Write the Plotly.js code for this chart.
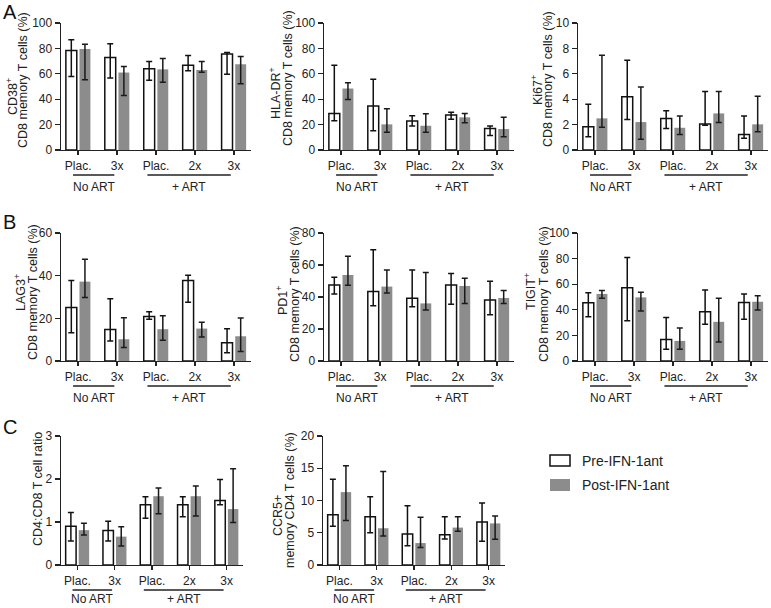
<!DOCTYPE html>
<html>
<head>
<meta charset="utf-8">
<script src="https://cdn.plot.ly/plotly-3.0.1.min.js"></script>
<style>
  html, body { margin: 0; padding: 0; background: #fff; }
  #chart { width: 771px; height: 608px; }
</style>
</head>
<body>
<div id="chart"></div>
<script>
const groups = ["Plac.", "3x", "Plac.", "2x", "3x"];
const arms = ["No ART", "+ ART"];
const seriesNames = ["Pre-IFN-1ant", "Post-IFN-1ant"];

// CD38+ CD8 memory T cells (%)
const cd38Pre = [78.4, 72.9, 64.0, 66.8, 75.5];
const cd38PreHi = [86.8, 83.7, 69.7, 74.5, 76.8];
const cd38PreLo = [57.9, 56.6, 55.0, 62.4, 59.7];
const cd38Post = [79.5, 61.0, 63.5, 63.0, 67.6];
const cd38PostHi = [83.2, 65.8, 72.1, 69.7, 73.7];
const cd38PostLo = [55.3, 42.9, 53.4, 61.3, 52.1];

// HLA-DR+
const hladrPre = [28.8, 34.6, 22.8, 27.5, 17.0];
const hladrPreHi = [66.8, 55.8, 27.0, 29.8, 18.8];
const hladrPreLo = [23.0, 15.2, 18.8, 24.3, 11.5];
const hladrPost = [48.4, 20.2, 19.1, 25.7, 16.5];
const hladrPostHi = [52.9, 32.5, 28.5, 28.8, 25.7];
const hladrPostLo = [39.8, 13.9, 14.0, 21.5, 10.5];

// Ki67+
const ki67Pre = [1.83, 4.19, 2.49, 2.04, 1.23];
const ki67PreHi = [3.6, 7.07, 3.09, 4.6, 2.67];
const ki67PreLo = [1.05, 2.4, 1.7, 1.95, 0.92];
const ki67Post = [2.49, 2.2, 1.75, 2.88, 2.02];
const ki67PostHi = [7.46, 4.97, 2.67, 4.6, 4.24];
const ki67PostLo = [1.8, 0.84, 1.23, 2.17, 1.44];

// LAG3+
const lag3Pre = [25.1, 14.8, 20.9, 37.7, 8.5];
const lag3PreHi = [37.7, 29.2, 23.1, 40.2, 15.1];
const lag3PreLo = [13.2, 9.4, 19.6, 27.5, 3.9];
const lag3Post = [37.2, 10.2, 14.9, 15.2, 11.6];
const lag3PostHi = [47.7, 20.3, 21.2, 18.2, 20.1];
const lag3PostLo = [29.8, 6.3, 9.7, 11.3, 4.4];

// PD1+
const pd1Pre = [47.5, 43.4, 39.2, 47.5, 38.1];
const pd1PreHi = [52.4, 69.5, 56.8, 54.7, 49.8];
const pd1PreLo = [41.9, 34.6, 33.9, 35.4, 28.9];
const pd1Post = [53.8, 46.5, 36.0, 46.9, 39.4];
const pd1PostHi = [65.5, 56.8, 55.3, 51.7, 44.0];
const pd1PostLo = [47.3, 42.5, 31.8, 36.0, 36.0];

// TIGIT+
const tigitPre = [45.5, 57.3, 16.8, 38.5, 45.8];
const tigitPreHi = [53.4, 80.9, 34.0, 55.5, 52.4];
const tigitPreLo = [34.6, 31.4, 9.2, 28.8, 32.7];
const tigitPost = [52.4, 49.7, 15.7, 30.6, 46.3];
const tigitPostHi = [55.0, 53.7, 25.7, 49.0, 51.0];
const tigitPostLo = [49.0, 39.0, 9.2, 14.9, 39.8];

// CD4:CD8 ratio
const ratioPre = [0.9, 0.8, 1.4, 1.4, 1.5];
const ratioPreHi = [1.22, 1.02, 1.59, 1.59, 1.99];
const ratioPreLo = [0.56, 0.56, 1.09, 1.12, 1.4];
const ratioPost = [0.81, 0.66, 1.6, 1.6, 1.3];
const ratioPostHi = [0.97, 0.89, 1.79, 1.84, 2.24];
const ratioPostLo = [0.7, 0.44, 1.19, 1.14, 0.99];

// CCR5+ memory CD4 T cells (%)
const ccr5Pre = [7.8, 7.5, 4.8, 4.7, 6.65];
const ccr5PreHi = [13.3, 10.6, 9.2, 7.5, 9.6];
const ccr5PreLo = [6.0, 5.0, 3.0, 4.05, 3.7];
const ccr5Post = [11.3, 5.7, 3.4, 5.8, 6.45];
const ccr5PostHi = [15.4, 14.5, 7.4, 7.5, 7.6];
const ccr5PostLo = [6.9, 4.5, 2.7, 5.25, 4.0];

const W = 771, H = 608;
const px = x => x / W;
const py = y => 1 - y / H;
const pos = groups.map((_, i) => i);

const panels = [
  { pre: cd38Pre, preHi: cd38PreHi, preLo: cd38PreLo, post: cd38Post, postHi: cd38PostHi, postLo: cd38PostLo,
    yMax: 100, dtick: 20, box: [61, 251, 23, 150], t1: "CD38<sup>+</sup>", t2: "CD8 memory T cells (%)", p1: [12, 97], p2: [23, 80] },
  { pre: hladrPre, preHi: hladrPreHi, preLo: hladrPreLo, post: hladrPost, postHi: hladrPostHi, postLo: hladrPostLo,
    yMax: 100, dtick: 20, box: [324, 514, 23, 150], t1: "HLA-DR<sup>+</sup>", t2: "CD8 memory T cells (%)", p1: [275, 93], p2: [288, 78] },
  { pre: ki67Pre, preHi: ki67PreHi, preLo: ki67PreLo, post: ki67Post, postHi: ki67PostHi, postLo: ki67PostLo,
    yMax: 10, dtick: 2, box: [578, 768, 23, 150], t1: "Ki67<sup>+</sup>", t2: "CD8 memory T cells (%)", p1: [537, 90], p2: [548, 79] },
  { pre: lag3Pre, preHi: lag3PreHi, preLo: lag3PreLo, post: lag3Post, postHi: lag3PostHi, postLo: lag3PostLo,
    yMax: 60, dtick: 20, box: [61, 251, 233, 361], t1: "LAG3<sup>+</sup>", t2: "CD8 memory T cells (%)", p1: [20, 293], p2: [33, 292] },
  { pre: pd1Pre, preHi: pd1PreHi, preLo: pd1PreLo, post: pd1Post, postHi: pd1PostHi, postLo: pd1PostLo,
    yMax: 80, dtick: 20, box: [324, 514, 233, 361], t1: "PD1<sup>+</sup>", t2: "CD8 memory T cells (%)", p1: [282, 301], p2: [295, 294] },
  { pre: tigitPre, preHi: tigitPreHi, preLo: tigitPreLo, post: tigitPost, postHi: tigitPostHi, postLo: tigitPostLo,
    yMax: 100, dtick: 20, box: [578, 768, 233, 361], t1: "TIGIT<sup>+</sup>", t2: "CD8 memory T cells (%)", p1: [530, 292], p2: [544, 294] },
  { pre: ratioPre, preHi: ratioPreHi, preLo: ratioPreLo, post: ratioPost, postHi: ratioPostHi, postLo: ratioPostLo,
    yMax: 3, dtick: 1, box: [61, 243, 436, 565], t1: null, t2: "CD4:CD8 T cell ratio", p1: null, p2: [38, 489] },
  { pre: ccr5Pre, preHi: ccr5PreHi, preLo: ccr5PreLo, post: ccr5Post, postHi: ccr5PostHi, postLo: ccr5PostLo,
    yMax: 20, dtick: 5, box: [323, 505, 436, 565], t1: "CCR5+", t2: "memory CD4 T cells (%)", p1: [278, 516], p2: [290, 500] }
];

const ink = "#222";
const grey = "#8c8c8c";
const font = "Liberation Sans, Arial, Helvetica, sans-serif";
const armSpans = [[-0.13, 0.93], [1.78, 3.92]];
const titleSize = 12.5;

const data = [];
const layout = {
  width: W, height: H,
  margin: { l: 0, r: 0, t: 0, b: 0 },
  paper_bgcolor: "#fff", plot_bgcolor: "#fff",
  font: { family: font, size: 12, color: ink },
  barmode: "group", bargap: 0.3, bargroupgap: 0.2,
  showlegend: false,
  shapes: [], annotations: []
};

panels.forEach((p, i) => {
  const n = i === 0 ? "" : String(i + 1);
  const [x0, x1, y0, y1] = p.box;

  data.push({
    type: "bar", name: seriesNames[0], x: pos, y: p.pre, xaxis: "x" + n, yaxis: "y" + n,
    marker: { color: "#fff", line: { color: "#111", width: 1.5 } },
    error_y: { type: "data", symmetric: false,
      array: p.preHi.map((v, k) => v - p.pre[k]),
      arrayminus: p.pre.map((v, k) => v - p.preLo[k]),
      color: "#111", thickness: 1.5, width: 3 },
    hoverinfo: "skip"
  });
  data.push({
    type: "bar", name: seriesNames[1], x: pos, y: p.post, xaxis: "x" + n, yaxis: "y" + n,
    marker: { color: grey, line: { width: 0 } },
    error_y: { type: "data", symmetric: false,
      array: p.postHi.map((v, k) => v - p.post[k]),
      arrayminus: p.post.map((v, k) => v - p.postLo[k]),
      color: "#1a1a1a", thickness: 1.5, width: 3 },
    hoverinfo: "skip"
  });

  layout["xaxis" + n] = {
    domain: [px(x0), px(x1)], anchor: "y" + n, range: [-0.44, 4.44],
    showline: true, linecolor: ink, linewidth: 1.4,
    ticks: "outside", ticklen: 4, tickwidth: 1.3, tickcolor: ink,
    tickvals: pos, ticktext: groups, tickfont: { size: 12, color: ink },
    showgrid: false, zeroline: false, fixedrange: true
  };
  layout["yaxis" + n] = {
    domain: [py(y1), py(y0)], anchor: "x" + n, range: [0, p.yMax],
    tick0: 0, dtick: p.dtick,
    showline: true, linecolor: ink, linewidth: 1.4,
    ticks: "outside", ticklen: 5, tickwidth: 1.3, tickcolor: ink,
    tickfont: { size: 12, color: ink },
    showgrid: false, zeroline: false, fixedrange: true
  };

  // group brackets under the axis
  const lineY = y1 + 25, textY = Math.min(y1 + 37, 599);
  armSpans.forEach((s, a) => {
    layout.shapes.push({ type: "line", xref: "x" + n, yref: "paper",
      x0: s[0], x1: s[1], y0: py(lineY), y1: py(lineY), line: { color: ink, width: 1.3 } });
    layout.annotations.push({ xref: "x" + n, yref: "paper", x: (s[0] + s[1]) / 2, y: py(textY),
      text: arms[a], showarrow: false, xanchor: "center", yanchor: "middle", font: { size: 12, color: ink } });
  });

  // y titles
  if (p.t1) {
    layout.annotations.push({ xref: "paper", yref: "paper", x: px(p.p1[0]), y: py(p.p1[1]),
      text: p.t1, textangle: -90, showarrow: false, xanchor: "center", yanchor: "middle",
      font: { size: titleSize, color: ink } });
  }
  layout.annotations.push({ xref: "paper", yref: "paper", x: px(p.p2[0]), y: py(p.p2[1]),
    text: p.t2, textangle: -90, showarrow: false, xanchor: "center", yanchor: "middle",
    font: { size: titleSize, color: ink } });
});

// panel letters
[["A", 12], ["B", 222], ["C", 427]].forEach(([t, y]) => {
  layout.annotations.push({ xref: "paper", yref: "paper", x: px(1), y: py(y), text: t,
    showarrow: false, xanchor: "left", yanchor: "middle", font: { size: 20, color: "#111" } });
});

// legend
layout.shapes.push({ type: "rect", xref: "paper", yref: "paper",
  x0: px(550), x1: px(570), y0: py(466), y1: py(455), fillcolor: "#fff", line: { color: "#111", width: 1.5 } });
layout.shapes.push({ type: "rect", xref: "paper", yref: "paper",
  x0: px(550), x1: px(570), y0: py(491), y1: py(479), fillcolor: grey, line: { width: 0 } });
layout.annotations.push({ xref: "paper", yref: "paper", x: px(580), y: py(461), text: seriesNames[0],
  showarrow: false, xanchor: "left", yanchor: "middle", font: { size: 14, color: ink } });
layout.annotations.push({ xref: "paper", yref: "paper", x: px(580), y: py(485), text: seriesNames[1],
  showarrow: false, xanchor: "left", yanchor: "middle", font: { size: 14, color: ink } });

Plotly.newPlot("chart", data, layout, { staticPlot: true, displayModeBar: false });
</script>
</body>
</html>
